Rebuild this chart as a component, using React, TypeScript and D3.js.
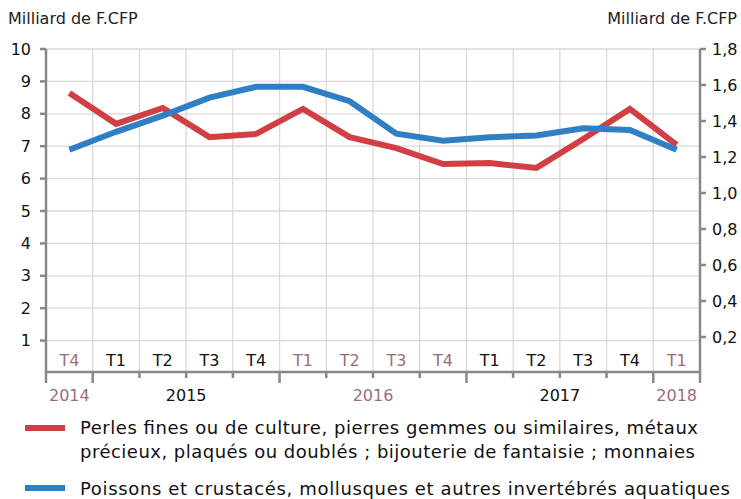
import React, { useEffect, useRef } from 'react';
import * as d3 from 'd3';

// quarters, T4 2014 .. T1 2018
const quarters = ['T4', 'T1', 'T2', 'T3', 'T4', 'T1', 'T2', 'T3', 'T4', 'T1', 'T2', 'T3', 'T4', 'T1'];
const quarterMuted = [true, false, false, false, false, true, true, true, true, false, false, false, false, true];
const years = [
  { label: '2014', from: 0, to: 1, muted: true },
  { label: '2015', from: 1, to: 5, muted: false },
  { label: '2016', from: 5, to: 9, muted: true },
  { label: '2017', from: 9, to: 13, muted: false },
  { label: '2018', from: 13, to: 14, muted: true },
];
// left axis (Milliard de F.CFP)
const perles = [8.64, 7.69, 8.18, 7.28, 7.38, 8.15, 7.28, 6.94, 6.45, 6.48, 6.33, 7.22, 8.15, 7.04];
// right axis (Milliard de F.CFP)
const poissons = [1.24, 1.34, 1.43, 1.53, 1.59, 1.59, 1.51, 1.33, 1.29, 1.31, 1.32, 1.36, 1.35, 1.24];
const leftTicks = [1, 2, 3, 4, 5, 6, 7, 8, 9, 10];
const rightTicks = [0.2, 0.4, 0.6, 0.8, 1.0, 1.2, 1.4, 1.6, 1.8];

const RED = '#d13f44';
const BLUE = '#2f7fc4';
const MUTED = '#9a6d7c';
const FONT = '"DejaVu Sans", Verdana, sans-serif';

const App = () => {
  const svgRef = useRef<SVGSVGElement>(null);

  useEffect(() => {
    const svg = d3.select(svgRef.current);
    svg.selectAll('*').remove();

    const left = 46, right = 700, top = 49, bottom = 373;
    const x = d3.scaleBand<number>().domain(d3.range(quarters.length)).range([left, right]);
    const yL = d3.scaleLinear().domain([0, 10]).range([bottom, top]);
    const yR = d3.scaleLinear().domain([0, 1.8]).range([bottom, top]);
    const step = x.step();

    // grid
    const grid = svg.append('g').attr('stroke', '#d9d9d9').attr('stroke-width', 1.3);
    leftTicks.forEach(t => {
      grid.append('line').attr('x1', left).attr('x2', right).attr('y1', yL(t)).attr('y2', yL(t));
    });
    d3.range(1, quarters.length).forEach(i => {
      const gx = left + i * step;
      grid.append('line').attr('x1', gx).attr('x2', gx).attr('y1', top).attr('y2', bottom);
    });

    // quarter labels inside plot
    svg.append('g').selectAll('text').data(quarters).enter().append('text')
      .attr('x', (d, i) => (x(i) as number) + step / 2)
      .attr('y', 366)
      .attr('text-anchor', 'middle')
      .style('font-family', FONT).style('font-size', '16px')
      .style('fill', (d, i) => quarterMuted[i] ? MUTED : '#111')
      .text(d => d);

    // lines
    const lineL = d3.line<number>().x((d, i) => (x(i) as number) + step / 2).y(d => yL(d));
    const lineR = d3.line<number>().x((d, i) => (x(i) as number) + step / 2).y(d => yR(d));
    svg.append('path').datum(perles).attr('d', lineL).attr('fill', 'none')
      .attr('stroke', RED).attr('stroke-width', 6).attr('stroke-linejoin', 'miter');
    svg.append('path').datum(poissons).attr('d', lineR).attr('fill', 'none')
      .attr('stroke', BLUE).attr('stroke-width', 6).attr('stroke-linejoin', 'miter');

    // axes
    const ax = svg.append('g').attr('stroke', '#888').attr('stroke-width', 2.5);
    ax.append('line').attr('x1', left).attr('x2', left).attr('y1', top).attr('y2', bottom);
    ax.append('line').attr('x1', right).attr('x2', right).attr('y1', top).attr('y2', bottom);
    ax.append('line').attr('x1', left - 1).attr('x2', right + 1).attr('y1', bottom - 1).attr('y2', bottom - 1);
    leftTicks.forEach(t => {
      ax.append('line').attr('x1', left - 6).attr('x2', left).attr('y1', yL(t)).attr('y2', yL(t));
    });
    rightTicks.forEach(t => {
      ax.append('line').attr('x1', right).attr('x2', right + 6).attr('y1', yR(t)).attr('y2', yR(t));
    });
    const yearBounds = new Set<number>();
    years.forEach(y => { yearBounds.add(y.from); yearBounds.add(y.to); });
    d3.range(0, quarters.length + 1).forEach(i => {
      const gx = left + i * step;
      ax.append('line').attr('x1', gx).attr('x2', gx).attr('y1', bottom)
        .attr('y2', yearBounds.has(i) ? bottom + 10 : bottom + 5);
    });

    // tick labels
    svg.append('g').selectAll('text').data(leftTicks).enter().append('text')
      .attr('x', 31).attr('y', d => yL(d)).attr('dy', '0.35em')
      .attr('text-anchor', 'end')
      .style('font-family', FONT).style('font-size', '16px').style('fill', '#111')
      .text(d => d);
    svg.append('g').selectAll('text').data(rightTicks).enter().append('text')
      .attr('x', 712).attr('y', d => yR(d)).attr('dy', '0.35em')
      .style('font-family', FONT).style('font-size', '16px').style('fill', '#111')
      .text(d => d3.format('.1f')(d).replace('.', ','));

    // year labels
    svg.append('g').selectAll('text').data(years).enter().append('text')
      .attr('x', d => left + (d.from + d.to) / 2 * step)
      .attr('y', 401)
      .attr('text-anchor', 'middle')
      .style('font-family', FONT).style('font-size', '16px')
      .style('fill', d => d.muted ? MUTED : '#111')
      .text(d => d.label);

    // axis titles
    svg.append('text').attr('x', 8).attr('y', 24)
      .style('font-family', FONT).style('font-size', '16px').style('fill', '#222')
      .text('Milliard de F.CFP');
    svg.append('text').attr('x', 737).attr('y', 24).attr('text-anchor', 'end')
      .style('font-family', FONT).style('font-size', '16px').style('fill', '#222')
      .text('Milliard de F.CFP');

    // legend
    const legend = [
      { color: RED, y: 428, base: 434, lines: ['Perles fines ou de culture, pierres gemmes ou similaires, métaux', 'précieux, plaqués ou doublés ; bijouterie de fantaisie ; monnaies'], widths: [618, 615] },
      { color: BLUE, y: 488, base: 495, lines: ['Poissons et crustacés, mollusques et autres invertébrés aquatiques'], widths: [650] },
    ];
    legend.forEach(l => {
      svg.append('line').attr('x1', 25).attr('x2', 65).attr('y1', l.y).attr('y2', l.y)
        .attr('stroke', l.color).attr('stroke-width', 6);
      l.lines.forEach((t, k) => {
        svg.append('text').attr('x', 80).attr('y', l.base + k * 24)
          .attr('textLength', l.widths[k]).attr('lengthAdjust', 'spacing')
          .style('font-family', FONT).style('font-size', '18px').style('fill', '#111')
          .text(t);
      });
    });
  }, []);

  return <svg ref={svgRef} width={741} height={499} style={{ position: 'absolute', left: 0, top: 0, background: '#fff' }} />;
};

export default App;
